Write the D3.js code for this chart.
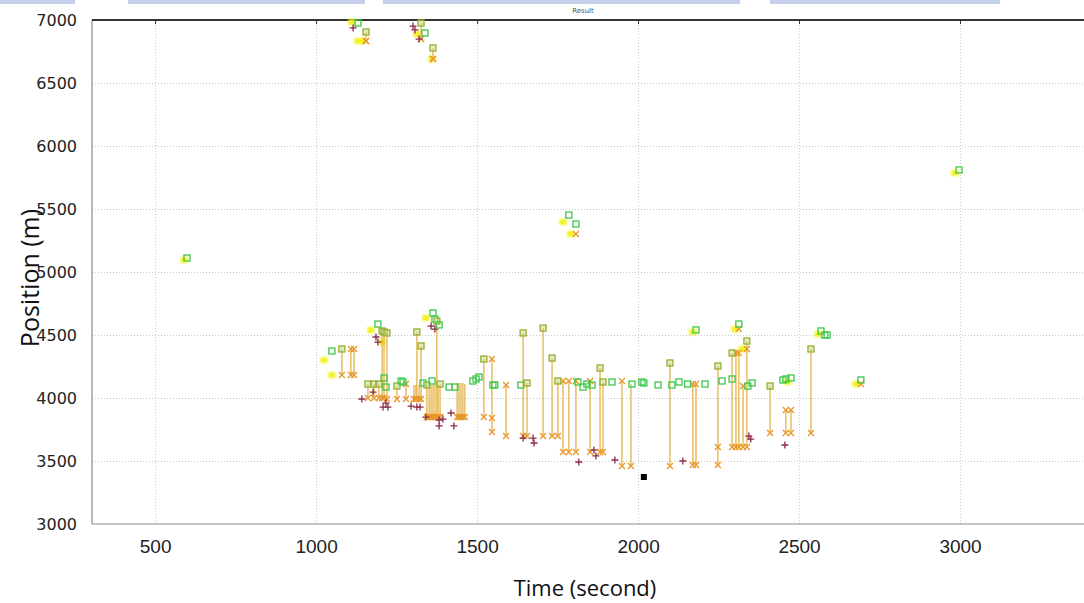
<!DOCTYPE html>
<html>
<head>
<meta charset="utf-8">
<script src="https://cdn.jsdelivr.net/npm/d3@7"></script>
<style>
body { margin:0; background:#fff; }
</style>
</head>
<body>
<script>
// valeurs (temps en s, position en m)
var xTicks = [500, 1000, 1500, 2000, 2500, 3000];
var yTicks = [3000, 3500, 4000, 4500, 5000, 5500, 6000, 6500, 7000];

// segments verticaux : [temps, haut, bas]
var segments = [
	[1155, 6905, 6833], [1326, 6976, 6849], [1363, 6778, 6690],
	[1080, 4389, 4182], [1108, 4389, 4182], [1118, 4389, 4182],
	[1161, 4111, 4000], [1180, 4111, 4000], [1195, 4111, 4000],
	[1205, 4532, 4000], [1211, 4524, 4000], [1220, 4516, 3992],
	[1251, 4095, 3992], [1279, 4111, 3992], [1304, 4103, 3992], [1310, 4103, 3992],
	[1313, 4524, 3992], [1320, 4103, 3992], [1326, 4413, 3992],
	[1344, 4103, 3849], [1351, 4103, 3849], [1357, 4103, 3849], [1363, 4103, 3849],
	[1369, 4111, 3849], [1375, 4611, 3849], [1379, 4103, 3849], [1385, 4111, 3849],
	[1438, 4119, 3849], [1444, 4119, 3849], [1450, 4119, 3849], [1456, 4119, 3849], [1462, 4111, 3849],
	[1521, 4309, 3849], [1546, 4309, 3730],
	[1590, 4103, 3698], [1643, 4516, 3698], [1655, 4119, 3698], [1705, 4555, 3698],
	[1733, 4317, 3698], [1751, 4135, 3698],
	[1767, 4135, 3571], [1785, 4135, 3571], [1807, 4135, 3571], [1851, 4135, 3571],
	[1882, 4238, 3571], [1891, 4127, 3571],
	[1950, 4135, 3460], [1978, 4111, 3460], [2099, 4278, 3460],
	[2170, 4111, 3468], [2180, 4111, 3468], [2248, 4254, 3468],
	[2292, 4357, 3611], [2304, 4357, 3611], [2313, 4357, 3611], [2326, 4095, 3611], [2338, 4452, 3611],
	[2410, 4095, 3722], [2459, 3905, 3722], [2475, 3905, 3722], [2537, 4389, 3722]
];

// carres verts
var squares = [
	[1130, 6976], [1155, 6905], [1326, 6976], [1338, 6897], [1363, 6778],
	[599, 5111], [1785, 5452], [1807, 5381], [2997, 5810],
	[1049, 4373], [1080, 4389], [1192, 4587], [1205, 4532], [1211, 4524], [1220, 4516],
	[1211, 4159], [1217, 4087], [1161, 4111], [1180, 4111], [1195, 4111], [1251, 4095],
	[1264, 4135], [1270, 4127], [1313, 4524], [1326, 4413], [1363, 4675], [1369, 4627],
	[1375, 4611], [1382, 4580], [1332, 4119], [1344, 4103], [1360, 4135], [1385, 4111],
	[1413, 4087], [1431, 4087], [1487, 4135], [1497, 4151], [1506, 4167], [1521, 4309],
	[1549, 4103], [1555, 4103], [1636, 4103], [1643, 4516], [1655, 4119], [1705, 4555],
	[1733, 4317], [1751, 4135], [1813, 4127], [1829, 4087], [1841, 4111], [1857, 4103],
	[1882, 4238], [1891, 4127], [1919, 4127], [1981, 4111], [2012, 4127], [2018, 4119],
	[2062, 4103], [2099, 4278], [2105, 4103], [2127, 4127], [2154, 4111], [2180, 4540],
	[2208, 4111], [2248, 4254], [2261, 4135], [2292, 4357], [2292, 4151], [2313, 4587],
	[2338, 4452], [2341, 4095], [2354, 4119], [2410, 4095], [2450, 4143], [2459, 4151],
	[2475, 4159], [2537, 4389], [2568, 4532], [2580, 4500], [2587, 4500], [2692, 4143]
];

// croix orange en plus des bas de segments
var crosses = [
	[1108, 4389], [1118, 4389], [1279, 4111], [1546, 4309], [1546, 3841], [1590, 4103],
	[1767, 4135], [1785, 4135], [1807, 4135], [1851, 4135], [1950, 4135], [2170, 4111],
	[2180, 4111], [2248, 3611], [2304, 4357], [2313, 4357], [2326, 4095], [2338, 4389],
	[2459, 3905], [2475, 3905], [2692, 4111], [2313, 4547], [1155, 6833], [1363, 6690],
	[1807, 5302]
];

// plus rouge fonce
var pluses = [
	[1115, 6937], [1301, 6952], [1307, 6921], [1320, 6849], [1186, 4484], [1192, 4444],
	[1357, 4571], [1369, 4547], [1142, 3992], [1177, 4047], [1208, 3928], [1217, 3960],
	[1223, 3928], [1295, 3936], [1313, 3928], [1323, 3928], [1341, 3849], [1382, 3825],
	[1394, 3833], [1382, 3778], [1419, 3881], [1428, 3778], [1643, 3682], [1674, 3682],
	[1677, 3643], [1816, 3492], [1863, 3587], [1869, 3540], [1928, 3508], [2139, 3500],
	[2344, 3698], [2350, 3674], [2456, 3627]
];

// points jaunes
var yellows = [
	[590, 5095], [1024, 4301], [1049, 4182], [1111, 6984], [1142, 6833], [1170, 4540],
	[1205, 4444], [1341, 4635], [1313, 6889], [1360, 6690], [1767, 5397], [1791, 5302],
	[2170, 4524], [2301, 4547], [2323, 4389], [2559, 4508], [2677, 4111], [2984, 5786],
	[1130, 6833], [2464, 4127]
];

var blackPoint = [[2018, 3373]];

var width = 1084, height = 603;
var mLeft = 92, mRight = 1084, mTop = 20, mBottom = 524;

var svg = d3.select("body").append("svg")
	.attr("width", width)
	.attr("height", height);

var x = d3.scaleLinear().domain([304, 3385]).range([mLeft, mRight]);
var y = d3.scaleLinear().domain([3000, 7000]).range([mBottom, mTop]);

// bande bleue du haut (capture de fenetre)
[[0, 75], [128, 365], [383, 740], [770, 1000]].forEach(function(b) {
	svg.append("rect").attr("x", b[0]).attr("y", 0).attr("width", b[1] - b[0]).attr("height", 4)
		.attr("fill", "#a9bbe2").attr("opacity", 0.7);
});

svg.append("text").attr("x", 583).attr("y", 13).attr("text-anchor", "middle")
	.attr("font-family", "DejaVu Sans").attr("font-size", 7).attr("fill", "#555").text("Result");

// grilles
svg.append("g").attr("transform", "translate(0," + mBottom + ")")
	.call(d3.axisBottom(x).tickValues(xTicks).tickSize(-(mBottom - mTop)).tickFormat(""))
	.call(function(g) { g.select(".domain").remove(); })
	.selectAll("line").attr("stroke", "#c8c8c8").attr("stroke-dasharray", "1,2");
svg.append("g").attr("transform", "translate(" + mLeft + ",0)")
	.call(d3.axisLeft(y).tickValues(yTicks.slice(1, -1)).tickSize(-(mRight - mLeft)).tickFormat(""))
	.call(function(g) { g.select(".domain").remove(); })
	.selectAll("line").attr("stroke", "#c8c8c8").attr("stroke-dasharray", "1,2");

// cadre
svg.append("line").attr("x1", mLeft).attr("x2", mLeft).attr("y1", mTop).attr("y2", mBottom).attr("stroke", "#8a8a8a").attr("stroke-width", 1.2);
svg.append("line").attr("x1", mLeft).attr("x2", mRight).attr("y1", mBottom).attr("y2", mBottom).attr("stroke", "#8a8a8a").attr("stroke-width", 1.2);
svg.append("line").attr("x1", mLeft).attr("x2", mRight).attr("y1", mTop).attr("y2", mTop).attr("stroke", "#333").attr("stroke-width", 2);
svg.append("g").attr("transform", "translate(0," + mTop + ")")
	.call(d3.axisBottom(x).tickValues(xTicks).tickSize(4).tickFormat(""))
	.call(function(g) { g.select(".domain").remove(); })
	.selectAll("line").attr("stroke", "#333");

// axes textes
var yAxis = svg.append("g").attr("transform", "translate(" + mLeft + ",0)")
	.call(d3.axisLeft(y).tickValues(yTicks).tickSize(0).tickPadding(15).tickFormat(d3.format("d")));
yAxis.select(".domain").remove();
yAxis.attr("font-family", "DejaVu Sans").attr("font-size", 16);
yAxis.selectAll("text").attr("fill", "#222");

var xAxis = svg.append("g").attr("transform", "translate(0," + mBottom + ")")
	.call(d3.axisBottom(x).tickValues(xTicks).tickSize(0).tickPadding(16).tickFormat(d3.format("d")));
xAxis.select(".domain").remove();
xAxis.attr("font-family", "'Liberation Sans Narrow', 'Liberation Sans', sans-serif").attr("font-size", 19);
xAxis.selectAll("text").attr("fill", "#222");

svg.append("text").attr("x", 585).attr("y", 596).attr("text-anchor", "middle")
	.attr("font-family", "Open Sans").attr("font-size", 22).attr("fill", "#111").text("Time (second)");
svg.append("text").attr("transform", "translate(39,278) rotate(-90)").attr("text-anchor", "middle")
	.attr("font-family", "Open Sans").attr("font-size", 25).attr("fill", "#111").text("Position (m)");

// flou leger comme sur l'image
var defs = svg.append("defs");
defs.append("filter").attr("id", "flou").append("feGaussianBlur").attr("stdDeviation", 0.45);
defs.append("filter").attr("id", "flou2").append("feGaussianBlur").attr("stdDeviation", 0.9);

// points jaunes
svg.append("g").attr("filter", "url(#flou2)").selectAll("rect").data(yellows).enter().append("rect")
	.attr("x", function(d) { return x(d[0]) - 3.5; })
	.attr("y", function(d) { return y(d[1]) - 3; })
	.attr("width", 7).attr("height", 6)
	.attr("fill", "#f2f21a");

var marks = svg.append("g").attr("filter", "url(#flou)");

// segments
marks.selectAll("line.seg").data(segments).enter().append("line")
	.attr("class", "seg")
	.attr("x1", function(d) { return x(d[0]); })
	.attr("x2", function(d) { return x(d[0]); })
	.attr("y1", function(d) { return y(d[1]); })
	.attr("y2", function(d) { return y(d[2]); })
	.attr("stroke", "#e2ac3c").attr("stroke-width", 1.4).attr("opacity", 0.85);

// croix : bas des segments + croix isolees
var allCrosses = segments.map(function(d) { return [d[0], d[2]]; }).concat(crosses);
marks.selectAll("path.cross").data(allCrosses).enter().append("path")
	.attr("class", "cross")
	.attr("transform", function(d) { return "translate(" + x(d[0]) + "," + y(d[1]) + ")"; })
	.attr("d", "M-3,-3L3,3M-3,3L3,-3")
	.attr("stroke", "#e8982a").attr("stroke-width", 1.3).attr("fill", "none");

// plus
marks.selectAll("path.plus").data(pluses).enter().append("path")
	.attr("class", "plus")
	.attr("transform", function(d) { return "translate(" + x(d[0]) + "," + y(d[1]) + ")"; })
	.attr("d", "M-3.5,0L3.5,0M0,-3.5L0,3.5")
	.attr("stroke", "#8e2a4a").attr("stroke-width", 1.3).attr("fill", "none");

// carres : olive si en haut d'un segment, vert sinon
function isTop(d) {
	return segments.some(function(s) { return Math.abs(s[0] - d[0]) < 2 && Math.abs(s[1] - d[1]) < 6; });
}
marks.selectAll("rect.sq").data(squares).enter().append("rect")
	.attr("class", "sq")
	.attr("x", function(d) { return x(d[0]) - 3; })
	.attr("y", function(d) { return y(d[1]) - 3; })
	.attr("width", 6).attr("height", 6)
	.attr("fill", function(d) { return isTop(d) ? "#c8d890" : "none"; })
	.attr("fill-opacity", 0.5)
	.attr("stroke", function(d) { return isTop(d) ? "#94b02c" : "#3ec84a"; })
	.attr("stroke-width", 1.3);

// point noir
svg.selectAll("rect.noir").data(blackPoint).enter().append("rect")
	.attr("class", "noir")
	.attr("x", function(d) { return x(d[0]) - 3; })
	.attr("y", function(d) { return y(d[1]) - 3; })
	.attr("width", 6).attr("height", 6)
	.attr("fill", "#000");
</script>
</body>
</html>
